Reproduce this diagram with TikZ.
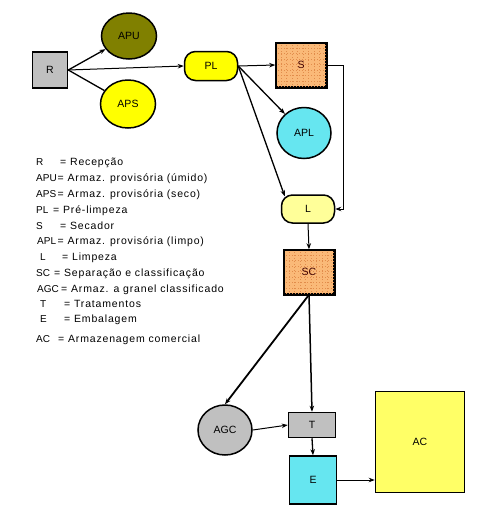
\documentclass[tikz,border=0pt]{standalone}
\usepackage{fontspec}
\setmainfont{Liberation Sans}
\newfontfamily\legfont[LetterSpace=8]{Liberation Sans}
\usetikzlibrary{arrows.meta,shapes.geometric}
\definecolor{grayf}{RGB}{192,192,192}
\definecolor{olivef}{RGB}{128,128,0}
\definecolor{yelf}{RGB}{255,255,0}
\definecolor{paleyel}{RGB}{255,255,153}
\definecolor{orng}{RGB}{250,185,120}
\definecolor{orngdot}{RGB}{225,140,75}
\definecolor{cynf}{RGB}{102,230,240}
\definecolor{acyel}{RGB}{255,255,102}
\begin{document}
\begin{tikzpicture}[x=1pt,y=-1pt,
  lbl/.style={font=\fontsize{10.5}{12}\selectfont},
  boxnode/.style={draw, line width=1.5pt, inner sep=0pt, lbl},
  ellnode/.style={ellipse, draw, line width=1.5pt, inner sep=0pt, lbl},
  pill/.style={draw, line width=1.5pt, inner sep=0pt, rounded corners=11pt, lbl},
  arr/.style={-{Stealth[length=6pt,width=4.5pt]}, line width=1pt},
  legtxt/.style={anchor=base west, inner sep=0pt, font=\legfont\fontsize{10.5}{12}\selectfont},
  legkey/.style={anchor=base west, inner sep=0pt, font=\fontsize{10}{12}\selectfont}
]
\useasboundingbox (0,0) rectangle (478,512);
\fill[white] (0,0) rectangle (478,512);

% nodes
\node[boxnode, fill=grayf, minimum width=35pt, minimum height=36pt] (R) at (50,70) {R};
\node[ellnode, fill=olivef, minimum width=55pt, minimum height=46pt] (APU) at (129,36) {APU};
\node[ellnode, fill=yelf, minimum width=55pt, minimum height=48pt] (APS) at (128,104) {APS};
\node[pill, fill=yelf, minimum width=53pt, minimum height=29pt] (PL) at (211,66) {PL};
\node[boxnode, fill=orng, minimum width=50pt, minimum height=44pt] (S) at (301,65) {};
\node[ellnode, fill=cynf, minimum width=54pt, minimum height=51pt] (APL) at (304,133) {APL};
\node[pill, fill=paleyel, minimum width=53pt, minimum height=28pt] (L) at (308,209) {L};
\node[boxnode, fill=orng, minimum width=50pt, minimum height=44pt] (SC) at (309,272) {};
\node[ellnode, fill=grayf, minimum width=54pt, minimum height=50pt] (AGC) at (225,430) {AGC};
\node[boxnode, fill=grayf, minimum width=47pt, minimum height=25pt] (T) at (312,425) {T};
\node[boxnode, fill=cynf, minimum width=47pt, minimum height=48pt] (E) at (313,480) {E};
\node[boxnode, fill=acyel, minimum width=89pt, minimum height=101pt] (AC) at (420,442) {AC};

% dotted grid texture on S and SC
\foreach \n in {S,SC}{
  \begin{scope}
    \clip (\n.north west) rectangle (\n.south east);
    \foreach \k in {1,...,9}{
      \draw[orngdot, dash pattern=on 1pt off 2pt, line width=0.5pt] ([xshift=\k*5.5pt]\n.north west) -- ([xshift=\k*5.5pt]\n.south west);
      \draw[orngdot, dash pattern=on 1pt off 2pt, line width=0.5pt] ([yshift=-\k*5.5pt]\n.north west) -- ([yshift=-\k*5.5pt]\n.north east);
    }
  \end{scope}
  \draw[line width=1.5pt] (\n.north west) rectangle (\n.south east);
}
\node[lbl, text=black!75!red] at (S) {S};
\node[lbl, text=black!75!red] at (SC) {SC};

% connectors
\draw[arr, line width=1.3pt] (R.east) -- (APU);
\draw[line width=1.3pt] (R.east) -- (APS);
\draw[arr] (R.east) -- (PL.west);
\draw[arr] (PL.east) -- (S.west);
\draw[arr, line width=1.3pt] (PL.east) -- (APL.135);
\draw[arr, line width=1.3pt] (PL.east) -- ([xshift=4pt,yshift=-2pt]L.north west);
\draw[arr] (S.east) -- ++(17,0) |- (L.east);
\draw[arr] (L.south) -- (SC.north);
\draw[arr, line width=1.5pt] (SC.south) -- (T.north);
\draw[arr, line width=1.8pt] (SC.south) -- (AGC.north);
\draw[arr] (AGC.east) -- (T.west);
\draw[arr, line width=1.3pt] (T.south) -- (E.north);
\draw[arr] (E.east) -- (E.east -| AC.west);

% legend
\node[legkey] (k1) at (36,165) {R};   \node[legtxt] (v1) at (60,165) {= Recepção};
\node[legkey] (k2) at (36,181) {APU}; \node[legtxt] (v2) at (57.5,181) {= Armaz. provisória (úmido)};
\node[legkey] (k3) at (36,197) {APS}; \node[legtxt] (v3) at (57.5,197) {= Armaz. provisória (seco)};
\node[legkey] (k4) at (36,213) {PL};  \node[legtxt] (v4) at (53,213) {= Pré-limpeza};
\node[legkey] (k5) at (36,229) {S};   \node[legtxt] (v5) at (60,229) {= Secador};
\node[legkey] (k6) at (37,244) {APL}; \node[legtxt] (v6) at (57.5,244) {= Armaz. provisória (limpo)};
\node[legkey] (k7) at (40,260) {L};   \node[legtxt] (v7) at (62,260) {= Limpeza};
\node[legkey] (k8) at (36,276) {SC};  \node[legtxt] (v8) at (54,276) {= Separação e classificação};
\node[legkey] (k9) at (37,292) {AGC}; \node[legtxt] (v9) at (61,292) {= Armaz. a granel classificado};
\node[legkey] (k10) at (40,307) {T};  \node[legtxt] (v10) at (64,307) {= Tratamentos};
\node[legkey] (k11) at (40,322) {E};  \node[legtxt] (v11) at (64,322) {= Embalagem};
\node[legkey] (k12) at (36,342) {AC}; \node[legtxt] (v12) at (58,342) {= Armazenagem comercial};
\end{tikzpicture}
\end{document}
